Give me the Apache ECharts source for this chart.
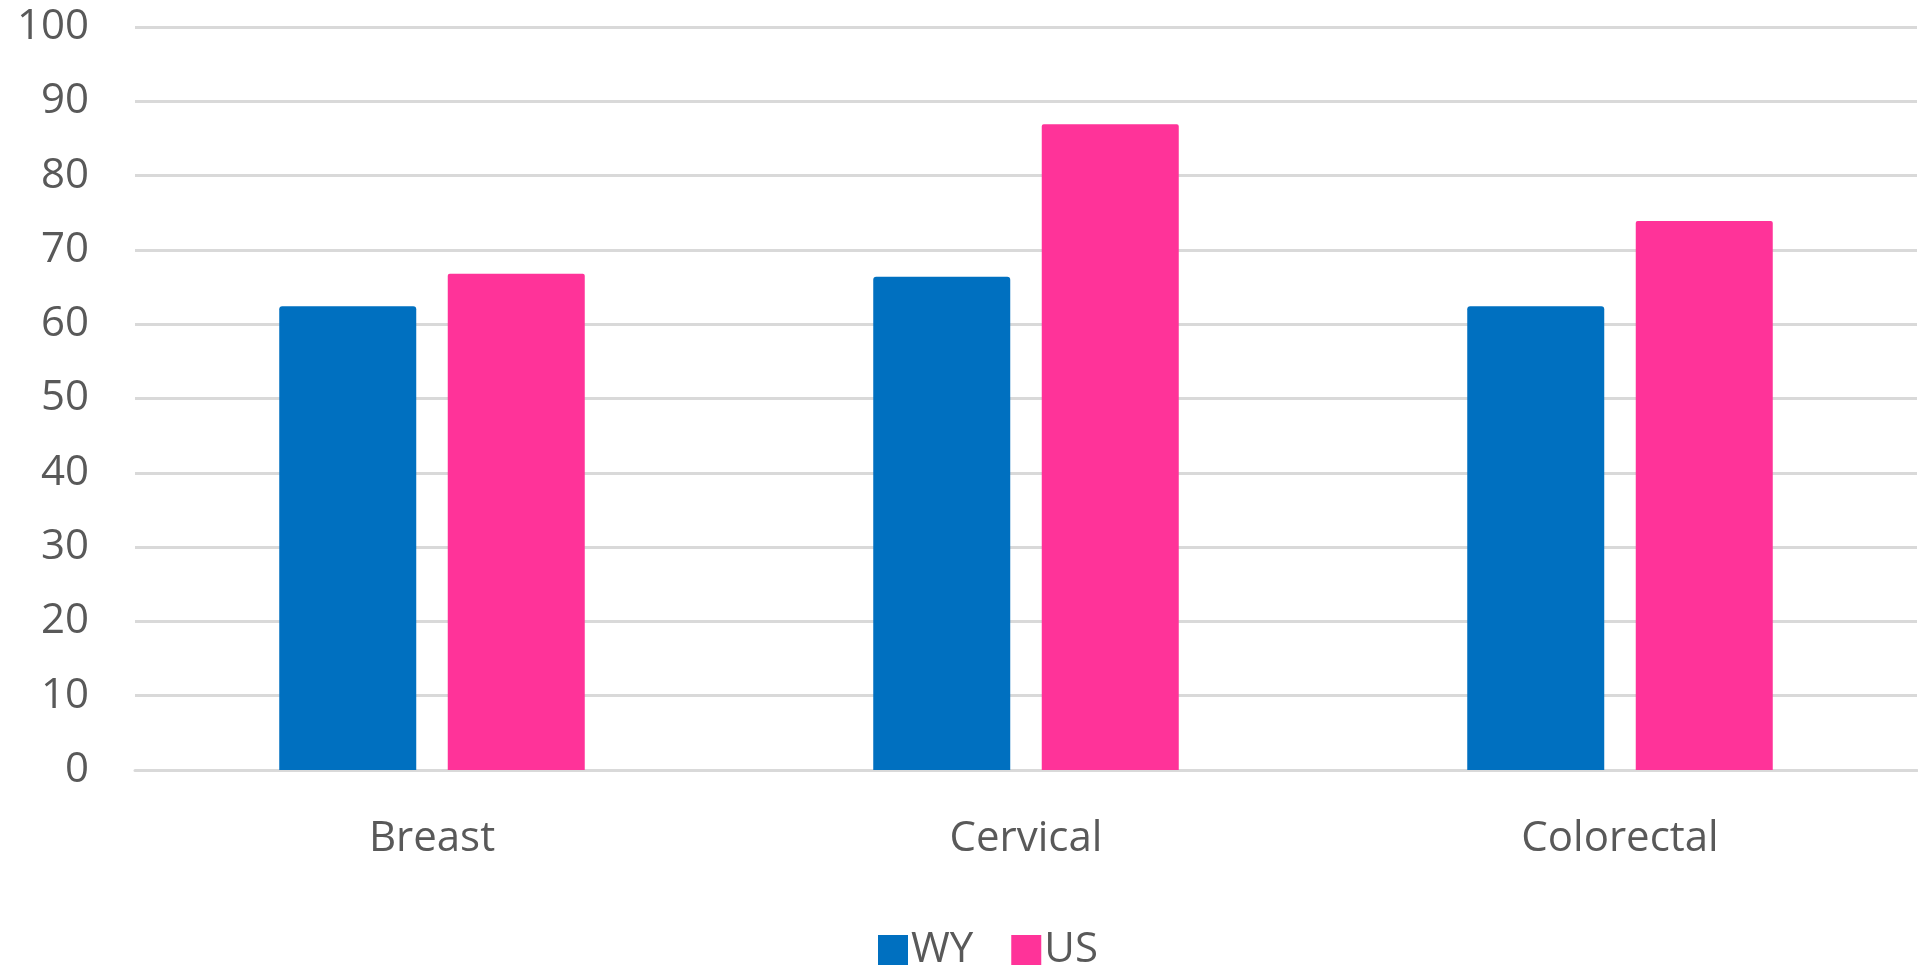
<!DOCTYPE html>
<html>
<head>
<meta charset="utf-8">
<script src="https://cdn.jsdelivr.net/npm/echarts@6/dist/echarts.min.js"></script>
<style>
html,body{margin:0;padding:0;background:#fff;}
#chart{width:1918px;height:969px;}
</style>
</head>
<body>
<div id="chart"></div>
<script>
const categories = ['Breast', 'Cervical', 'Colorectal'];
const seriesNames = ['WY', 'US'];
const wyValues = [62.4, 66.4, 62.4];
const usValues = [66.8, 86.9, 73.9];
const yTicks = [0, 100, 10];

const chart = echarts.init(document.getElementById('chart'));
const fontFamily = '"Open Sans", "Noto Sans", sans-serif';
chart.setOption({
  animation: false,
  backgroundColor: '#fff',
  grid: { left: 135, right: 1, top: 27, bottom: 199, containLabel: false },
  legend: {
    data: seriesNames,
    left: 873,
    top: 924,
    itemWidth: 30,
    itemHeight: 30,
    itemGap: 38,
    icon: 'rect',
    textStyle: { fontFamily, fontSize: 42, color: '#595959', padding: [0, 0, 0, -2] }
  },
  xAxis: {
    type: 'category',
    data: categories,
    axisLine: { show: true, lineStyle: { color: '#d9d9d9', width: 3 } },
    axisTick: { show: false },
    axisLabel: { fontFamily, fontSize: 42, color: '#595959', margin: 48 }
  },
  yAxis: {
    type: 'value',
    min: yTicks[0],
    max: yTicks[1],
    interval: yTicks[2],
    axisLine: { show: false },
    axisTick: { show: false },
    axisLabel: { fontFamily, fontSize: 42, color: '#595959', margin: 46 },
    splitLine: { lineStyle: { color: '#d9d9d9', width: 3 } }
  },
  series: [
    {
      name: seriesNames[0], type: 'bar', data: wyValues,
      barWidth: 137, barGap: '23%',
      itemStyle: { color: '#0070C0', borderRadius: [3, 3, 0, 0] }
    },
    {
      name: seriesNames[1], type: 'bar', data: usValues,
      barWidth: 137, barGap: '23%',
      itemStyle: { color: '#FF3399', borderRadius: [2, 2, 0, 0] }
    }
  ]
});
</script>
</body>
</html>
